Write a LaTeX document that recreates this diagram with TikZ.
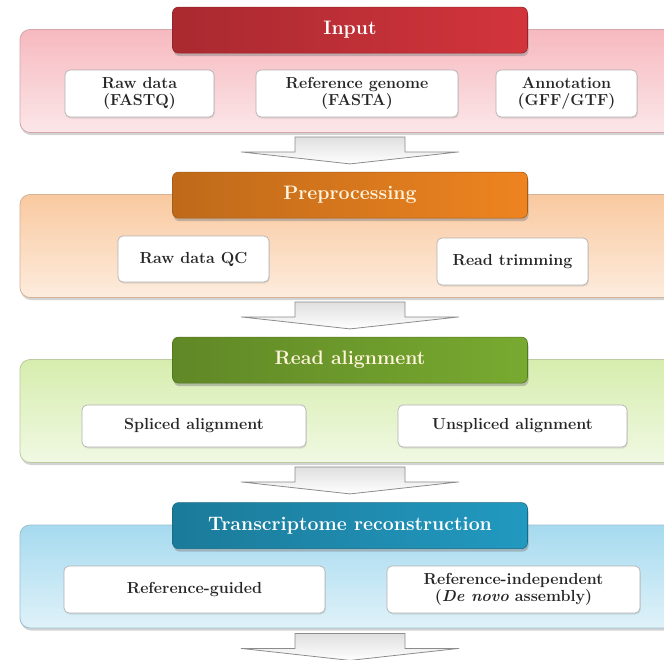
\documentclass[tikz,border=0pt]{standalone}
\usepackage{fontspec}
\usetikzlibrary{positioning, calc, shadows}
\definecolor{inputRed}{HTML}{D3343C}
\definecolor{inputPink}{HTML}{F6B9BF}
\definecolor{preOrange}{HTML}{EE8420}
\definecolor{prePeach}{HTML}{F9C9A0}
\definecolor{alnGreen}{HTML}{78AA30}
\definecolor{alnLime}{HTML}{D6EDAE}
\definecolor{trBlue}{HTML}{2299C0}
\definecolor{trSky}{HTML}{A6DAEF}
\definecolor{arrowGray}{HTML}{8C8C8C}
\definecolor{creamText}{HTML}{FFF4DC}

\begin{document}
\begin{tikzpicture}[x=1pt, y=-1pt,
    panel/.style={rectangle, rounded corners=10pt, minimum width=660pt, minimum height=103pt,
      top color=#1, bottom color=#1!35!white, draw=#1!70!gray, line width=0.8pt,
      drop shadow={shadow xshift=1pt, shadow yshift=-2.5pt, opacity=0.35}},
    stage/.style={rectangle, rounded corners=6pt, minimum width=355pt, minimum height=46pt,
      left color=#1!80!black, right color=#1, draw=#1!70!black, line width=0.6pt,
      text=white, font=\fontsize{19.5}{22}\selectfont\bfseries,
      drop shadow={shadow xshift=1pt, shadow yshift=-3pt, opacity=0.45}},
    item/.style={rectangle, rounded corners=5pt, fill=white, draw=gray!60, line width=0.7pt,
      align=center, font=\fontsize{16}{17.5}\selectfont\bfseries, text=black!85,
      drop shadow={shadow xshift=0.8pt, shadow yshift=-1.5pt, opacity=0.2}},
    flow/.style={draw=arrowGray, line width=0.8pt, top color=gray!25, bottom color=white}]
  \useasboundingbox (0,0) rectangle (664,659);
  \clip (0,0) rectangle (664,659);

  % input
  \node[panel=inputPink] (p1) at (350,81) {};
  \node[stage=inputRed] (t1) at ($(p1.north)+(0,1)$) {Input};
  \node[item, minimum width=149pt, minimum height=47pt] (raw) at (139.5,93.5) {Raw data\\(FASTQ)};
  \node[item, minimum width=202pt, minimum height=47pt] (genome) at (357,93.5) {Reference genome\\(FASTA)};
  \node[item, minimum width=141pt, minimum height=47pt] (annot) at (566.5,93.5) {Annotation\\(GFF/GTF)};

  % preprocessing
  \node[panel=prePeach] (p2) at (350,246) {};
  \node[stage=preOrange, text=creamText] (t2) at ($(p2.north)+(0,1)$) {Preprocessing};
  \node[item, minimum width=151pt, minimum height=46pt] (qc) at (193.5,259) {Raw data QC};
  \node[item, minimum width=151pt, minimum height=47pt] (trim) at (512.5,261.5) {Read trimming};

  % alignment
  \node[panel=alnLime] (p3) at (350,411) {};
  \node[stage=alnGreen, text=creamText] (t3) at ($(p3.north)+(0,1)$) {Read alignment};
  \node[item, minimum width=224pt, minimum height=42pt] (spliced) at (194,426) {Spliced alignment};
  \node[item, minimum width=229pt, minimum height=42pt] (unspliced) at (512.5,426) {Unspliced alignment};

  % reconstruction
  \node[panel=trSky] (p4) at (350,576.5) {};
  \node[stage=trBlue] (t4) at ($(p4.north)+(0,1)$) {Transcriptome reconstruction};
  \node[item, minimum width=261pt, minimum height=47pt] (guided) at (194.5,589.5) {Reference-guided};
  \node[item, minimum width=253pt, minimum height=47pt] (denovo) at (513.5,589.5) {Reference-independent\\(\textit{De novo} assembly)};

  % block arrows under each panel
  \draw[flow] ($(p1.south)+(-55,4)$) -- ++(0,15) -- ++(-54,0) -- ($(p1.south)+(0,31)$)
    -- ++(109,-12) -- ++(-54,0) -- ++(0,-15) -- cycle;
  \draw[flow] ($(p2.south)+(-55,4)$) -- ++(0,15) -- ++(-54,0) -- ($(p2.south)+(0,31)$)
    -- ++(109,-12) -- ++(-54,0) -- ++(0,-15) -- cycle;
  \draw[flow] ($(p3.south)+(-55,4)$) -- ++(0,15) -- ++(-54,0) -- ($(p3.south)+(0,31)$)
    -- ++(109,-12) -- ++(-54,0) -- ++(0,-15) -- cycle;
  \draw[flow] ($(p4.south)+(-55,5)$) -- ++(0,15) -- ++(-54,0) -- ($(p4.south)+(0,32)$)
    -- ++(109,-12) -- ++(-54,0) -- ++(0,-15) -- cycle;
\end{tikzpicture}
\end{document}
